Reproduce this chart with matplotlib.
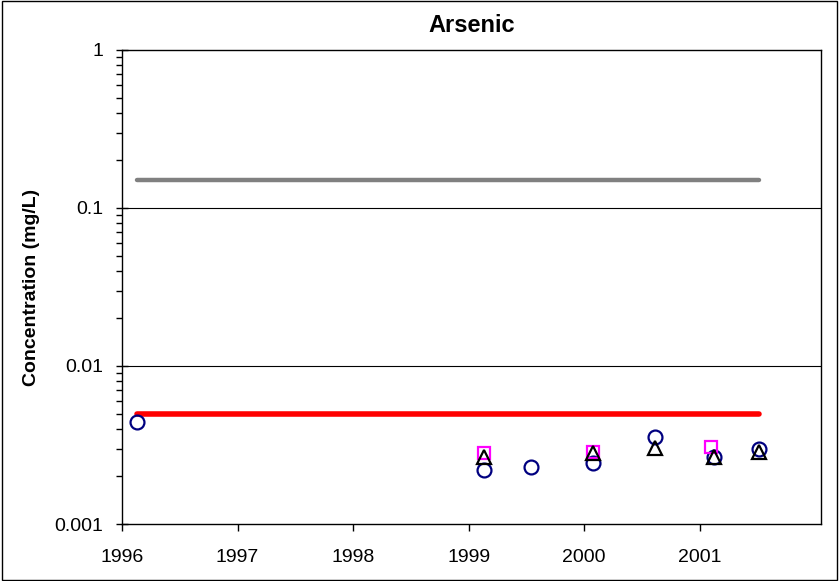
import matplotlib
matplotlib.use('Agg')
import matplotlib.pyplot as plt
from matplotlib.ticker import LogLocator, FixedLocator, NullFormatter

plt.rcParams['font.family'] = ['Liberation Sans', 'DejaVu Sans']

# data (decimal years, mg/L)
circle_x = [1996.13, 1999.13, 1999.54, 2000.08, 2000.61, 2001.12, 2001.51]
circle_y = [0.0044, 0.0022, 0.00231, 0.00243, 0.00355, 0.00265, 0.00298]
square_x = [1999.13, 2000.08, 2001.10]
square_y = [0.00283, 0.00287, 0.00309]
tri_x = [1999.13, 2000.08, 2000.61, 2001.12, 2001.51]
tri_y = [0.00265, 0.00280, 0.00303, 0.00265, 0.00285]
limit_x = [1996.13, 2001.51]
red_limit = [0.005, 0.005]
gray_limit = [0.15, 0.15]
years = [1996, 1997, 1998, 1999, 2000, 2001]

fig = plt.figure(figsize=(8.39, 5.81), dpi=100)
ax = fig.add_axes([0.1454, 0.0981, 0.8331, 0.8159])

ax.set_yscale('log')
ax.set_ylim(0.001, 1)
ax.set_xlim(1996, 2002.05)

for yv in [0.01, 0.1]:
    ax.axhline(yv, color='black', linewidth=0.8, zorder=1)

ax.plot(limit_x, gray_limit, color='#808080', linewidth=3.2, solid_capstyle='round', zorder=2)
ax.plot(limit_x, red_limit, color='#ff0000', linewidth=4.0, solid_capstyle='round', zorder=2)

ax.plot(circle_x, circle_y, linestyle='none', marker='o', markersize=10,
        markerfacecolor='none', markeredgecolor='#000080', markeredgewidth=1.6, zorder=3)
ax.plot(square_x, square_y, linestyle='none', marker='s', markersize=9,
        markerfacecolor='none', markeredgecolor='#ff00ff', markeredgewidth=1.6, zorder=4)
ax.plot(tri_x, tri_y, linestyle='none', marker='^', markersize=10,
        markerfacecolor='none', markeredgecolor='black', markeredgewidth=1.6, zorder=5)

ax.xaxis.set_major_locator(FixedLocator(years))
ax.set_xticklabels([str(y) for y in years], fontsize=14)
ax.yaxis.set_major_locator(FixedLocator([0.001, 0.01, 0.1, 1]))
ax.set_yticklabels(['0.001', '0.01', '0.1', '1'], fontsize=14)
ax.yaxis.set_minor_locator(LogLocator(base=10, subs=range(2, 10)))
ax.yaxis.set_minor_formatter(NullFormatter())
ax.tick_params(axis='y', which='major', direction='inout', length=9, width=1, pad=9)
ax.tick_params(axis='y', which='minor', direction='out', length=4, width=1)
ax.tick_params(axis='x', which='major', direction='out', length=5, width=1, pad=13)

for s in ax.spines.values():
    s.set_linewidth(1)
    s.set_color('black')

ax.set_title('Arsenic', fontsize=17, fontweight='bold', pad=13)
ax.set_ylabel('Concentration (mg/L)', fontsize=14, fontweight='bold', labelpad=10)

fig.patches.append(plt.Rectangle((0.002, 0.002), 0.996, 0.996, transform=fig.transFigure,
                                 fill=False, edgecolor='black', linewidth=1))

fig.savefig('out.png', dpi=100)
